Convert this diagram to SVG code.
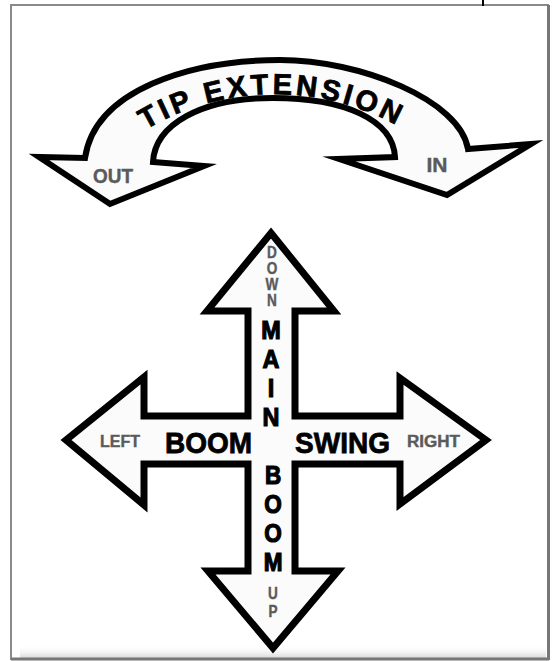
<svg xmlns="http://www.w3.org/2000/svg" width="553" height="661" viewBox="0 0 553 661">
<defs>
<style>
.arrow{fill:#fbfbfb;stroke:#000;stroke-linejoin:miter;stroke-miterlimit:12}
.big{font-family:"Liberation Sans",Arial,sans-serif;font-weight:bold;fill:#000;stroke:#000;stroke-width:0.8}
.gray{font-family:"Liberation Sans",Arial,sans-serif;font-weight:bold;fill:#5a5a5a;stroke:#5a5a5a;stroke-width:0.4}
</style>
<linearGradient id="shade" x1="0" y1="0" x2="0" y2="1">
<stop offset="0" stop-color="#ffffff" stop-opacity="0"/>
<stop offset="1" stop-color="#d8d8d8"/>
</linearGradient>
<path id="arcText" d="M 120,147 A 254,254 0 0 1 430,147"/>
</defs>
<rect x="0" y="0" width="553" height="661" fill="#fff"/>
<g id="frame">
<rect x="11" y="5" width="537" height="654" fill="#fff" stroke="#8a8a8a" stroke-width="2"/>
<rect x="20" y="645" width="526" height="13" fill="url(#shade)"/>
<line x1="548.5" y1="5" x2="548.5" y2="660" stroke="#777" stroke-width="3"/>
<line x1="11" y1="659" x2="549" y2="659" stroke="#777" stroke-width="3"/>
<line x1="483" y1="0" x2="483" y2="6" stroke="#000" stroke-width="2"/>
</g>
<g id="tip-extension">
<path class="arrow" stroke-width="6" d="M 85,158 C 95,90 190,60 280,60 C 360,60 460,100 468,149 L 531,144 L 447,195 L 339,159 L 395,157 C 393,120 345,98 273,98 C 200,98 155,125 153,162 L 204,166 L 110,204 L 39,157 Z"/>
<text class="big" font-size="29"><textPath href="#arcText" startOffset="48.5%" text-anchor="middle" textLength="262" lengthAdjust="spacing">TIP EXTENSION</textPath></text>
<text class="gray" font-size="20" x="113" y="183" text-anchor="middle" textLength="40" lengthAdjust="spacingAndGlyphs">OUT</text>
<text class="gray" font-size="20" x="437" y="172" text-anchor="middle" textLength="21" lengthAdjust="spacingAndGlyphs">IN</text>
</g>
<g id="cross">
<polygon class="arrow" stroke-width="7" points="271,233 334,311 295,311 295,416 400,416 400,378 486,440 400,504 400,464 295,464 295,571 338,571 273,648 208,571 248,571 248,464 144,464 144,505 66,440 144,377 144,416 248,416 248,311 207,311"/>
</g>
<g id="down-label" transform="translate(272,0) scale(0.85,1)">
<text class="gray" font-size="16" text-anchor="middle"><tspan x="0" y="258">D</tspan><tspan x="0" y="274">O</tspan><tspan x="0" y="290">W</tspan><tspan x="0" y="306">N</tspan></text>
</g>
<g id="main-label" transform="translate(271,0) scale(0.9,1)">
<text class="big" font-size="26" style="stroke-width:1.2" text-anchor="middle"><tspan x="0" y="339">M</tspan><tspan x="0" y="368">A</tspan><tspan x="0" y="397">I</tspan><tspan x="0" y="426">N</tspan></text>
</g>
<g id="boom-vertical-label" transform="translate(273,0) scale(0.9,1)">
<text class="big" font-size="25" style="stroke-width:1.2" text-anchor="middle"><tspan x="0" y="484">B</tspan><tspan x="0" y="513">O</tspan><tspan x="0" y="542">O</tspan><tspan x="0" y="571">M</tspan></text>
</g>
<g id="up-label" transform="translate(273,0) scale(0.85,1)">
<text class="gray" font-size="16" text-anchor="middle"><tspan x="0" y="599">U</tspan><tspan x="0" y="617">P</tspan></text>
</g>
<g id="boom-horizontal-label">
<text class="big" font-size="30" x="165" y="453" textLength="87" lengthAdjust="spacingAndGlyphs">BOOM</text>
</g>
<g id="swing-label">
<text class="big" font-size="30" x="295" y="453" textLength="95" lengthAdjust="spacingAndGlyphs">SWING</text>
</g>
<g id="left-label">
<text class="gray" font-size="16" x="100" y="447" textLength="40" lengthAdjust="spacingAndGlyphs">LEFT</text>
</g>
<g id="right-label">
<text class="gray" font-size="16" x="407" y="447" textLength="53" lengthAdjust="spacingAndGlyphs">RIGHT</text>
</g>
</svg>
